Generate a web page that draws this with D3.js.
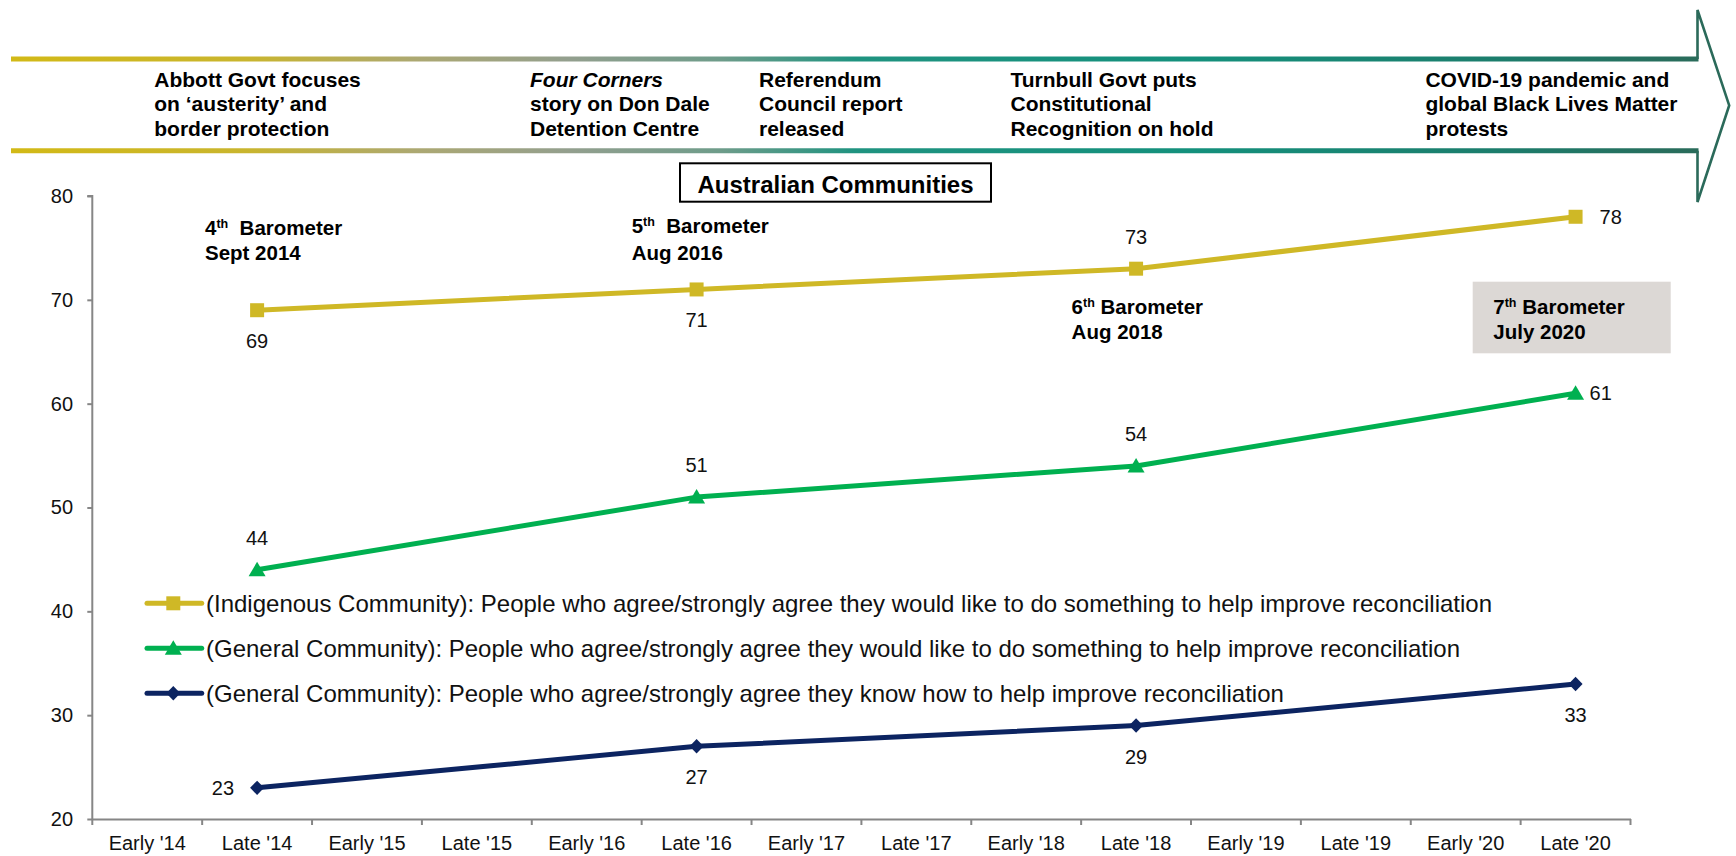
<!DOCTYPE html>
<html><head><meta charset="utf-8">
<script src="https://cdn.jsdelivr.net/npm/d3@7"></script>
<style>
html,body{margin:0;padding:0;background:#fff;}
svg{display:block;font-family:"Liberation Sans",Arial,Helvetica,sans-serif;}
</style>
</head><body>
<svg id="chart" width="1736" height="856"></svg>
<script>
// ---------------- DATA ----------------
const categories = ["Early '14","Late '14","Early '15","Late '15","Early '16","Late '16","Early '17","Late '17","Early '18","Late '18","Early '19","Late '19","Early '20","Late '20"];
const indigenousLike = [null,69,null,null,null,71,null,null,null,73,null,null,null,78];
const generalLike    = [null,44,null,null,null,51,null,null,null,54,null,null,null,61];
const generalKnow    = [null,23,null,null,null,27,null,null,null,29,null,null,null,33];
const yTicks = [20,30,40,50,60,70,80];
const seriesNames = [
  "(Indigenous Community): People who agree/strongly agree they would like to do something to help improve reconciliation",
  "(General Community): People who agree/strongly agree they would like to do something to help improve reconciliation",
  "(General Community): People who agree/strongly agree they know how to help improve reconciliation"
];
const chartTitle = "Australian Communities";
const events = [
  ["Abbott Govt focuses","on \u2018austerity\u2019 and","border protection"],
  ["Four Corners","story on Don Dale","Detention Centre"],
  ["Referendum","Council report","released"],
  ["Turnbull Govt puts","Constitutional","Recognition on hold"],
  ["COVID-19 pandemic and","global Black Lives Matter","protests"]
];
const barometers = [
  ["4","th","  Barometer","Sept 2014"],
  ["5","th","  Barometer","Aug 2016"],
  ["6","th"," Barometer","Aug 2018"],
  ["7","th"," Barometer","July 2020"]
];
// label placement per point (style, not data)
const labelPlace = [
  ["below","below","above","right"],
  ["above","above","above","right"],
  ["left","below","below","below"]
];

// ---------------- SETUP ----------------
const svg = d3.select("#chart");
const plot = {left: 92.3, right: 1630.5, top: 196, bottom: 819};

const x = d3.scaleBand().domain(categories).range([plot.left, plot.right]).padding(0);
const y = d3.scaleLinear().domain([20, 80]).range([plot.bottom, plot.top]);
const cx = d => x(d) + x.bandwidth() / 2;

const colors = ["#CFB826", "#00B050", "#0C2461"];
const seriesValues = [indigenousLike, generalLike, generalKnow];

// ---------------- BANNER ARROW ----------------
const defs = svg.append("defs");
const grad = defs.append("linearGradient").attr("id","bandGrad")
  .attr("gradientUnits","userSpaceOnUse").attr("x1",11).attr("x2",1700).attr("y1",0).attr("y2",0);
[[0,"#D2B916"],[0.14,"#C9B52E"],[0.24,"#ACA872"],[0.33,"#939F8E"],[0.42,"#6E9C8A"],[0.5,"#1F9380"],[0.7,"#14907C"],[0.88,"#1C7D6C"],[1,"#2A6B5A"]]
  .forEach(([o,c]) => grad.append("stop").attr("offset",o).attr("stop-color",c));

const bandTop = 59, bandBot = 150.8, headX = 1697.5, tipX = 1729.2;
svg.append("path")
  .attr("d", `M${headX},${bandTop} V10 L${tipX},${(bandTop+bandBot)/2+0.5} L${headX},202 V${bandBot}`)
  .attr("fill","#fff").attr("stroke","#2B6A5A").attr("stroke-width",2.6).attr("stroke-linejoin","miter");
svg.append("line").attr("x1",11).attr("x2",headX+1).attr("y1",bandTop).attr("y2",bandTop)
  .attr("stroke","url(#bandGrad)").attr("stroke-width",4.8);
svg.append("line").attr("x1",11).attr("x2",headX+1).attr("y1",bandBot).attr("y2",bandBot)
  .attr("stroke","url(#bandGrad)").attr("stroke-width",5);

const eventX = [154.3, 530, 759, 1010.5, 1425.4];
const eventBase = [86.7, 111.3, 136];
events.forEach((lines, i) => {
  const t = svg.append("text").attr("font-size", 21).attr("font-weight","bold").attr("fill","#000");
  lines.forEach((ln, j) => {
    t.append("tspan").attr("x", eventX[i]).attr("y", eventBase[j]).text(ln)
      .attr("font-style", (i === 1 && j === 0) ? "italic" : null);
  });
});

// ---------------- AXES ----------------
const axisColor = "#868686";
const gy = svg.append("g").attr("transform", `translate(${plot.left},0)`)
  .call(d3.axisLeft(y).tickValues(yTicks).tickSize(5).tickPadding(14.3).tickFormat(d3.format("d")));
gy.select(".domain").attr("stroke", axisColor).attr("stroke-width", 2).attr("d", `M-5,${plot.top}H0V${plot.bottom}`);
gy.selectAll(".tick line").attr("stroke", axisColor).attr("stroke-width", 2);
gy.selectAll(".tick text").attr("font-size", 20).attr("fill", "#111").attr("font-family", null);

const gx = svg.append("g").attr("transform", `translate(0,${plot.bottom})`)
  .call(d3.axisBottom(x).tickSize(0).tickPadding(17));
gx.select(".domain").attr("stroke", axisColor).attr("stroke-width", 2);
gx.selectAll(".tick text").attr("font-size", 20).attr("fill", "#111").attr("font-family", null);
const bounds = categories.map(c => x(c)).concat([plot.right]);
gx.selectAll(".bound").data(bounds).enter().append("line").attr("class","bound")
  .attr("x1", d => d).attr("x2", d => d).attr("y1", 0).attr("y2", 6)
  .attr("stroke", axisColor).attr("stroke-width", 2);

// ---------------- TITLE BOX ----------------
svg.append("rect").attr("x", 680).attr("y", 163.3).attr("width", 311).attr("height", 38.4)
  .attr("fill", "#fff").attr("stroke", "#000").attr("stroke-width", 2);
svg.append("text").attr("x", 835.5).attr("y", 193).attr("text-anchor", "middle")
  .attr("font-size", 24).attr("font-weight", "bold").text(chartTitle);

// ---------------- BAROMETER NOTES ----------------
svg.append("rect").attr("x", 1472.7).attr("y", 281.7).attr("width", 198).attr("height", 71.6).attr("fill", "#DCD8D5");
const baroPos = [[205, 235, 260], [631.7, 233.3, 260], [1071.6, 314, 339], [1493.3, 314, 339]];
barometers.forEach((b, i) => {
  const [bx, b1, b2] = baroPos[i];
  const t = svg.append("text").attr("font-size", 20.5).attr("font-weight", "bold").style("white-space", "pre");
  const l1 = t.append("tspan").attr("x", bx).attr("y", b1);
  l1.append("tspan").text(b[0]);
  l1.append("tspan").attr("font-size", 12.5).attr("dy", -7).text(b[1]);
  l1.append("tspan").attr("dy", 7).text(b[2]);
  t.append("tspan").attr("x", bx).attr("y", b2).text(b[3]);
});

// ---------------- MARKERS ----------------
const markerPaths = [
  "M-7,-7H7V7H-7Z",
  "M0,-8L8.5,6.5L-8.5,6.5Z",
  "M0,-7.2L7,0L0,7.2L-7,0Z"
];

// ---------------- SERIES ----------------
const line = d3.line().defined(d => d.v !== null).x(d => cx(d.c)).y(d => y(d.v));
const rightDx = [24, 14, 24];
seriesValues.forEach((vals, si) => {
  const pts = categories.map((c, i) => ({c, v: vals[i]})).filter(d => d.v !== null);
  svg.append("path").datum(pts).attr("d", line).attr("fill", "none")
    .attr("stroke", colors[si]).attr("stroke-width", 5).attr("stroke-linejoin", "round");
  svg.selectAll(null).data(pts).enter().append("path")
    .attr("d", markerPaths[si]).attr("fill", colors[si])
    .attr("transform", d => `translate(${cx(d.c)},${y(d.v)})`);
  svg.selectAll(null).data(pts).enter().append("text")
    .attr("font-size", 20).attr("fill", "#111")
    .each(function(d, k) {
      const p = labelPlace[si][k];
      const px = cx(d.c), py = y(d.v);
      const s = d3.select(this).text(d.v);
      if (p === "below") s.attr("x", px).attr("y", py + 38).attr("text-anchor", "middle");
      else if (p === "above") s.attr("x", px).attr("y", py - 25).attr("text-anchor", "middle");
      else if (p === "right") s.attr("x", px + rightDx[si]).attr("y", py + 7).attr("text-anchor", "start");
      else s.attr("x", px - 23).attr("y", py + 7).attr("text-anchor", "end");
    });
});

// ---------------- LEGEND ----------------
const legY = [603.3, 648.3, 693.3];
seriesNames.forEach((name, si) => {
  const g = svg.append("g").attr("transform", `translate(0,${legY[si]})`);
  g.append("line").attr("x1", 147).attr("x2", 201.7).attr("y1", 0).attr("y2", 0)
    .attr("stroke", colors[si]).attr("stroke-width", 5).attr("stroke-linecap", "round");
  g.append("path").attr("d", markerPaths[si]).attr("fill", colors[si]).attr("transform", "translate(173.3,0)");
  g.append("text").attr("x", 206).attr("y", 8.4).attr("font-size", 24).attr("fill", "#111").text(name);
});
</script>
</body></html>
